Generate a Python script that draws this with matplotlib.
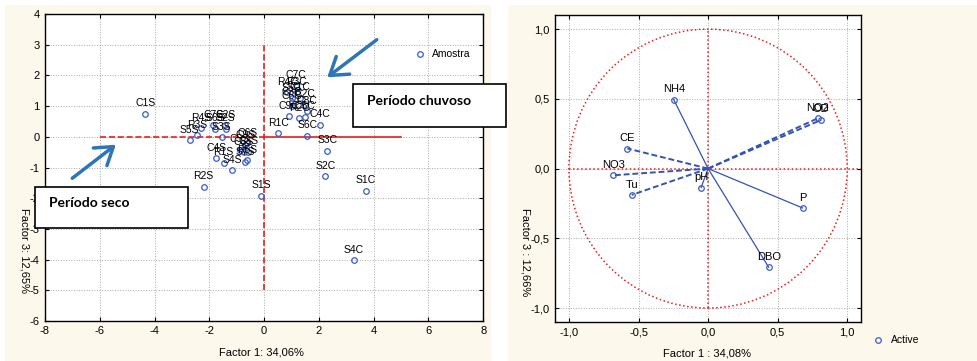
import matplotlib
matplotlib.use("Agg")
import matplotlib.pyplot as plt
from matplotlib.patches import Rectangle, Circle, FancyArrowPatch
from matplotlib.lines import Line2D

plt.rcParams["font.family"] = ["Liberation Sans", "DejaVu Sans"]
plt.rcParams["axes.unicode_minus"] = False

# -------------------------
# Data: sample scores (Factor 1 x Factor 3)
# -------------------------
dry_labels = ["C1S", "S5S", "R3S", "R4S", "C7S", "S6S", "C2S", "S2S", "S3S",
              "C6S", "C9S", "C5S", "C8S", "C3S", "C4S", "R1S", "S7S", "R5S",
              "S4S", "R2S", "S1S"]
dry_f1 = [-4.34, -2.72, -2.46, -2.29, -1.85, -1.78, -1.42, -1.40, -1.55,
          -0.62, -0.68, -0.88, -0.75, -0.57, -1.75, -1.48, -0.69, -0.63,
          -1.16, -2.21, -0.10]
dry_f3 = [0.75, -0.11, 0.05, 0.28, 0.37, 0.27, 0.37, 0.27, -0.02,
          -0.20, -0.28, -0.42, -0.50, -0.48, -0.70, -0.84, -0.83, -0.77,
          -1.09, -1.62, -1.92]

wet_labels = ["C7C", "R4C", "R3C", "S5C", "C1C", "C2C", "C3C", "C6C", "C5C",
              "R2C", "C9C", "C8C", "R1C", "S6C", "C4C", "S3C", "S2C", "S1C", "S4C"]
wet_f1 = [1.17, 0.85, 1.20, 1.01, 1.30, 1.48, 1.01, 1.01, 1.50,
          1.28, 0.91, 1.56, 0.52, 1.58, 2.04, 2.31, 2.24, 3.71, 3.28]
wet_f3 = [1.68, 1.45, 1.45, 1.26, 1.28, 1.05, 1.12, 0.99, 0.66,
          0.60, 0.68, 0.83, 0.12, 0.03, 0.39, -0.45, -1.28, -1.76, -4.02]

# -------------------------
# Data: variable loadings
# -------------------------
var_labels = ["NH4", "CE", "NO3", "Tu", "pH", "P", "DBO", "NO2", "OD"]
var_f1 = [-0.247, -0.580, -0.681, -0.549, -0.050, 0.679, 0.436, 0.789, 0.813]
var_f3 = [0.495, 0.144, -0.048, -0.189, -0.136, -0.282, -0.708, 0.361, 0.349]
var_dashed = [False, True, True, True, False, False, False, True, True]

left_xticks = [-8, -6, -4, -2, 0, 2, 4, 6, 8]
left_yticks = [-6, -5, -4, -3, -2, -1, 0, 1, 2, 3, 4]
right_ticks = [-1.0, -0.5, 0.0, 0.5, 1.0]
right_ticklabels = ["-1,0", "-0,5", "0,0", "0,5", "1,0"]

blue = "#3a5bc7"
cream = "#fdf8ec"
arrow_blue = "#2f75b5"

fig = plt.figure(figsize=(9.78, 3.61), dpi=100)

# cream panels behind each chart
fig.patches.append(Rectangle((0.005, 0), 0.497, 0.986, transform=fig.transFigure,
                             facecolor=cream, edgecolor="none", zorder=-10))
fig.patches.append(Rectangle((0.519, 0), 0.480, 0.986, transform=fig.transFigure,
                             facecolor=cream, edgecolor="none", zorder=-10))


def style_axes(ax):
    ax.set_facecolor("white")
    ax.grid(True, linestyle=":", color="#a8a8a8", linewidth=0.7)
    ax.set_axisbelow(True)
    ax.tick_params(direction="in", top=True, right=True, length=3,
                   labelsize=8, pad=4)
    for s in ax.spines.values():
        s.set_linewidth(1.0)


# -------------------------
# Left: scores
# -------------------------
ax1 = fig.add_axes([0.046, 0.111, 0.448, 0.850])
style_axes(ax1)
ax1.set_xlim(-8, 8)
ax1.set_ylim(-6, 4)
ax1.set_xticks(left_xticks)
ax1.set_yticks(left_yticks)

ax1.plot([-6, 0], [0, 0], color="#e62020", ls="--", lw=1.2, zorder=2)
ax1.plot([0, 5], [0, 0], color="#e62020", ls="-", lw=1.2, zorder=2)
ax1.plot([0, 0], [-5, 3], color="#e62020", ls="--", lw=1.2, zorder=2)

ax1.plot(dry_f1 + wet_f1, dry_f3 + wet_f3, "o", ms=4, mfc="none",
         mec=blue, mew=0.9, zorder=3)
for lab, x, y in zip(dry_labels + wet_labels, dry_f1 + wet_f1, dry_f3 + wet_f3):
    ax1.annotate(lab, (x, y), xytext=(0, 7.5), textcoords="offset points",
                 ha="center", va="center", fontsize=7.5, zorder=4)

ax1.plot([0.856], [0.870], "o", ms=4, mfc="none", mec=blue, mew=0.9,
         transform=ax1.transAxes)
ax1.text(0.884, 0.870, "Amostra", transform=ax1.transAxes, fontsize=7.5,
         va="center")

ax1.set_xlabel("Factor 1: 34,06%", fontsize=8, va="center")
ax1.xaxis.set_label_coords(0.495, -0.104)
ax1.set_ylabel("Factor 3: 12,65%", fontsize=8, rotation=270, va="center")
ax1.yaxis.set_label_coords(-0.046, 0.231)

# -------------------------
# Right: loadings / correlation circle
# -------------------------
ax2 = fig.add_axes([0.5675, 0.108, 0.313, 0.850])
style_axes(ax2)
ax2.set_xlim(-1.1, 1.1)
ax2.set_ylim(-1.1, 1.1)
ax2.set_xticks(right_ticks)
ax2.set_xticklabels(right_ticklabels)
ax2.set_yticks(right_ticks)
ax2.set_yticklabels(right_ticklabels)

ax2.add_patch(Circle((0, 0), 1.0, fill=False, edgecolor="#e62020", ls=":",
                     lw=1.1, zorder=2))
ax2.plot([-1.0, 1.1], [0, 0], color="#e62020", ls=":", lw=1.1, zorder=2,
         clip_on=False)
ax2.plot([0, 0], [-1.0, 1.0], color="#e62020", ls=":", lw=1.1, zorder=2)

for lab, x, y, d in zip(var_labels, var_f1, var_f3, var_dashed):
    if d:
        ax2.plot([0, x], [0, y], color="#3553b0", lw=1.4, ls=(0, (3, 1.5)), zorder=3)
    else:
        ax2.plot([0, x], [0, y], color="#3553b0", lw=0.9, ls="-", zorder=3)
    ax2.plot([x], [y], "o", ms=4, mfc="none", mec=blue, mew=0.9, zorder=4)
    ax2.annotate(lab, (x, y), xytext=(0, 7.5), textcoords="offset points",
                 ha="center", va="center", fontsize=8, zorder=5)

ax2.set_xlabel("Factor 1 : 34,08%", fontsize=8, va="center")
ax2.xaxis.set_label_coords(0.497, -0.101)
ax2.set_ylabel("Factor 3 : 12,66%", fontsize=8, rotation=270, va="center")
ax2.yaxis.set_label_coords(-0.098, 0.228)

fig.lines.append(Line2D([0.898], [0.058], marker="o", ms=4, mfc="none",
                        mec=blue, mew=0.9, transform=fig.transFigure))
fig.text(0.911, 0.058, "Active", fontsize=7.5, va="center")

# -------------------------
# Annotation boxes and arrows
# -------------------------
fig.patches.append(Rectangle((0.361, 0.648), 0.156, 0.119, transform=fig.transFigure,
                             facecolor="white", edgecolor="black", lw=1.2, zorder=5))
fig.text(0.375, 0.720, "Período chuvoso", fontsize=10, fontweight="bold",
         family="Lato", va="center", zorder=6)

fig.patches.append(Rectangle((0.0358, 0.368), 0.156, 0.114, transform=fig.transFigure,
                             facecolor="white", edgecolor="black", lw=1.2, zorder=5))
fig.text(0.050, 0.438, "Período seco", fontsize=10, fontweight="bold",
         family="Lato", va="center", zorder=6)

for tail, head in [((0.3875, 0.8947), (0.3323, 0.7812)),
                   ((0.0716, 0.5014), (0.1207, 0.6039))]:
    fig.patches.append(FancyArrowPatch(tail, head, transform=fig.transFigure,
                                       arrowstyle="->,head_length=0.6,head_width=0.4",
                                       mutation_scale=20, color=arrow_blue, lw=2.5,
                                       zorder=7))

fig.savefig("out.png", dpi=100)
